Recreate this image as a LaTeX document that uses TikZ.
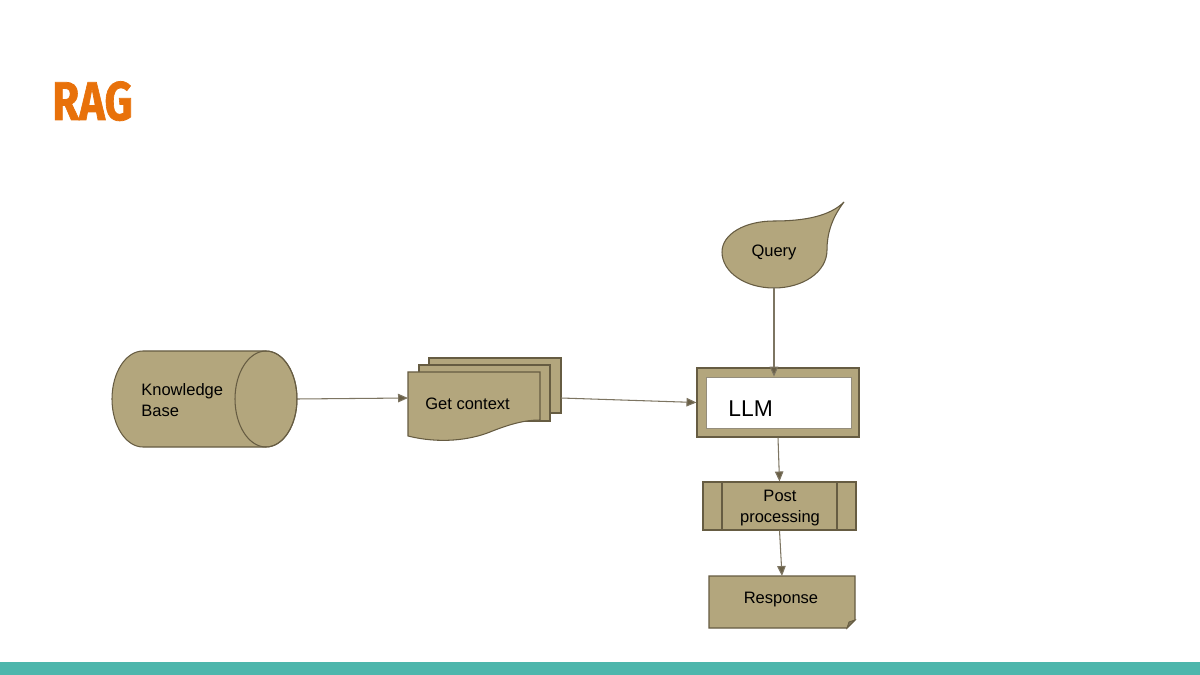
\documentclass[tikz,border=0pt]{standalone}
\usepackage{fontspec}
\setmainfont{Liberation Sans}
\newfontfamily\titlefont{Fira Sans}[FakeBold=1.4]
\usetikzlibrary{arrows.meta}
\definecolor{tan}{RGB}{179,166,125}
\definecolor{edge}{RGB}{102,92,66}
\definecolor{conn}{RGB}{125,117,98}
\definecolor{tipc}{RGB}{105,95,70}
\definecolor{teal}{RGB}{77,182,172}
\definecolor{rust}{RGB}{232,113,10}
\tikzset{
  shapefill/.style={fill=tan,draw=edge,line width=0.6pt},
  anchorbox/.style={draw=none,inner sep=0pt,outer sep=0pt},
  lbl/.style={font=\fontsize{9.4}{11.5}\selectfont,inner sep=0pt,text=black},
  conn/.style={draw=conn,line width=0.6pt,-{Triangle[length=0.2cm,width=0.17cm,fill=tipc]}},
}
\begin{document}
\begin{tikzpicture}[x=0.02cm,y=-0.02cm]
\useasboundingbox (0,0) rectangle (1200,675);
\fill[white] (0,0) rectangle (1200,675);
% bottom bar
\fill[teal] (0,662) rectangle (1200,675);
% title
\node[anchor=base west,inner sep=0pt,text=rust,font=\titlefont\bfseries\fontsize{31}{36}\selectfont] (title) at (52,120) {\scalebox{0.8}[1]{RAG}};

% Knowledge base cylinder
\filldraw[shapefill] (143,351) .. controls (125.9,351) and (112,372.5) .. (112,399)
  .. controls (112,425.5) and (125.9,447) .. (143,447) -- (266,447)
  .. controls (283.1,447) and (297,425.5) .. (297,399)
  .. controls (297,372.5) and (283.1,351) .. (266,351) -- cycle;
\draw[edge,line width=0.6pt] (266,399) ellipse [x radius=31,y radius=48];
\node[anchorbox,minimum width=3.7cm,minimum height=1.92cm] (kb) at (204.5,399) {};
\node[lbl,anchor=west,align=left] (kbtext) at (141,400) {Knowledge\\Base};

% Get context (multi document)
\filldraw[shapefill] (429,358) rectangle (561,413);
\filldraw[shapefill] (419,365) rectangle (550,421);
\filldraw[shapefill] (408,372) -- (540,372) -- (540,420)
  .. controls (525,420) and (510,424) .. (490,432)
  .. controls (470,440) and (440,444) .. (408,436) -- cycle;
\node[anchorbox,minimum width=3.06cm,minimum height=1.6cm] (gc) at (484.5,398) {};
\node[lbl,anchor=west] (gctext) at (425,404) {Get context};

% Query
\filldraw[shapefill] (844,202) .. controls (831,219) and (827,235) .. (827,250)
  .. controls (827,272) and (803,288) .. (774,288)
  .. controls (745,288) and (722,272) .. (722,252)
  .. controls (722,234) and (745,221) .. (774,221)
  .. controls (805,221) and (830,216) .. (844,202) -- cycle;
\node[anchorbox,minimum width=2.1cm,minimum height=1.3cm] (query) at (774,255) {};
\node[lbl] (qtext) at (774,252) {Query};

% LLM
\node[shapefill,minimum width=3.24cm,minimum height=1.38cm,inner sep=0pt] (llmframe) at (778,402.5) {};
\node[fill=white,draw=edge!70,line width=0.5pt,minimum width=2.9cm,minimum height=1.02cm,inner sep=0pt] (llm) at (778.5,402.5) {};
\node[anchor=west,inner sep=0pt,font=\fontsize{13}{15}\selectfont] (llmtext) at (728,409) {LLM};

% Post processing
\node[shapefill,minimum width=3.06cm,minimum height=0.96cm,inner sep=0pt] (post) at (779.5,506) {};
\draw[edge,line width=0.6pt] (722,482) -- (722,530) (837,482) -- (837,530);
\node[lbl,align=center] (posttext) at (780,508) {Post\\processing};

% Response
\filldraw[shapefill] (709,576) -- (855,576) -- (855,620) -- (847,628) -- (709,628) -- cycle;
\filldraw[fill=tan!70!black,draw=edge,line width=0.5pt] (847,628) -- (849,622) -- (855,620) -- cycle;
\node[anchorbox,minimum width=2.92cm,minimum height=1.04cm] (resp) at (782,602) {};
\node[lbl] (resptext) at (781,600) {Response};

% connectors
\draw[conn] (kb.east) -- (gc.west);
\draw[conn] (gc.east) -- (llmframe.west);
\draw[conn] (query.south) -- (query.south |- llm.north);
\draw[conn] (llmframe.south) -- (post.north);
\draw[conn] (post.south) -- (resp.north);
\end{tikzpicture}
\end{document}
